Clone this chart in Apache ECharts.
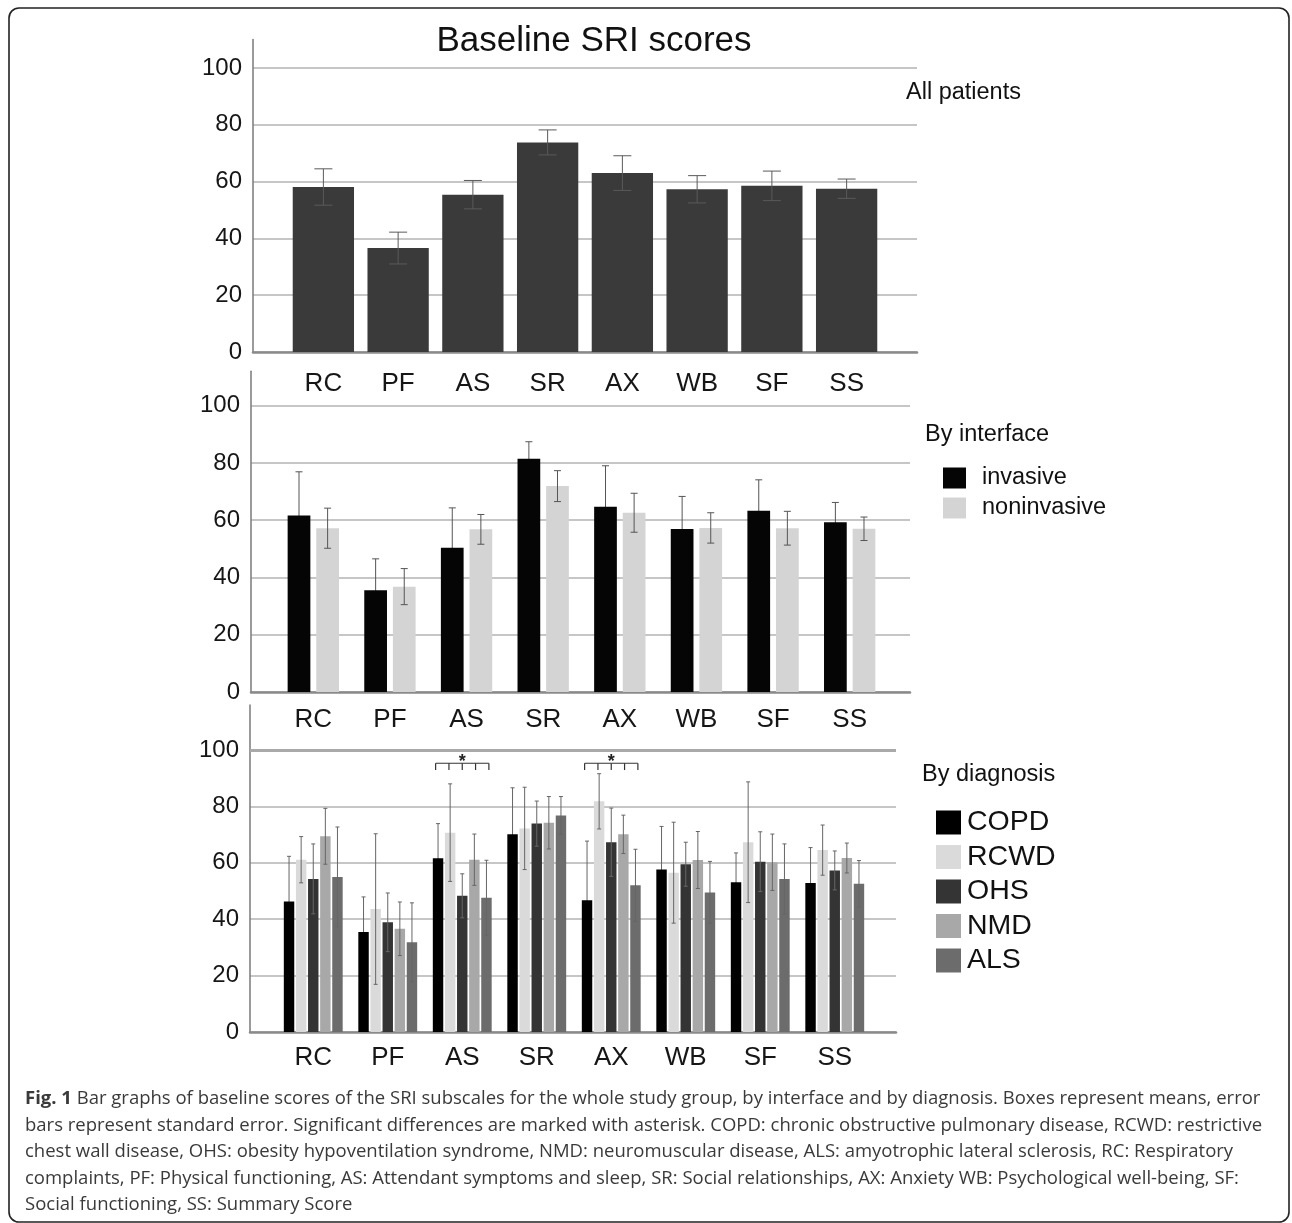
<!DOCTYPE html>
<html>
<head>
<meta charset="utf-8">
<script src="https://cdn.jsdelivr.net/npm/echarts@6/dist/echarts.min.js"></script>
<style>
  html, body { margin: 0; padding: 0; background: #fff; }
  #chart { width: 1292px; height: 1223px; }
</style>
</head>
<body>
<div id="chart"></div>
<script>
// SRI subscales
const categories = ['RC', 'PF', 'AS', 'SR', 'AX', 'WB', 'SF', 'SS'];

// All patients: mean and standard error
const allMean = [58.1, 36.6, 55.4, 73.8, 63.0, 57.3, 58.5, 57.5];
const allErr  = [6.4, 5.6, 5.0, 4.4, 6.1, 4.8, 5.2, 3.4];

// By interface
const invasiveMean    = [61.6, 35.5, 50.4, 81.5, 64.7, 56.9, 63.3, 59.3];
const invasiveErr     = [15.3, 11.0, 13.9, 5.9, 14.3, 11.4, 10.8, 6.9];
const noninvasiveMean = [57.2, 36.8, 56.8, 71.9, 62.6, 57.3, 57.2, 57.0];
const noninvasiveErr  = [7.0, 6.3, 5.2, 5.4, 6.8, 5.3, 5.9, 4.1];

// By diagnosis
const copdMean = [46.3, 35.5, 61.6, 70.1, 46.7, 57.6, 53.1, 52.8];
const copdErr  = [16.0, 12.4, 12.3, 16.5, 21.0, 15.3, 10.4, 12.6];
const rcwdMean = [61.1, 43.6, 70.7, 72.2, 81.8, 56.5, 67.3, 64.5];
const rcwdErr  = [8.2, 26.7, 17.3, 14.6, 9.8, 17.9, 21.4, 8.9];
const ohsMean  = [54.3, 38.9, 48.3, 73.9, 67.3, 59.5, 60.4, 57.3];
const ohsErr   = [12.4, 10.4, 7.8, 8.0, 12.1, 7.8, 10.6, 6.9];
const nmdMean  = [69.4, 36.6, 61.1, 74.2, 70.1, 61.0, 60.2, 61.7];
const nmdErr   = [9.9, 9.5, 9.1, 9.3, 6.8, 10.1, 10.0, 5.3];
const alsMean  = [55.0, 31.8, 47.6, 76.8, 52.0, 49.5, 54.3, 52.6];
const alsErr   = [17.7, 14.0, 13.3, 6.7, 12.8, 11.0, 12.4, 8.2];

// Subscales with a significant difference between diagnoses
const significant = ['AS', 'AX'];
const bracketLevel = 95.3;

// y axis tick labels
const yTickLabels = [0, 20, 40, 60, 80, 100];

const FONT = "'Liberation Sans', Arial, sans-serif";
const CAPTION_FONT = "'Open Sans', 'Noto Sans', sans-serif";

// Same arithmetic as ECharts' own bar layout, so whiskers sit on bar centres
function barLayout(band, n, catGap, gap) {
  const avail = band * (1 - catGap);
  const w = avail / (n + (n - 1) * gap);
  return { w: w, start: -avail / 2 + w / 2, step: w * (1 + gap) };
}

function errorSeries(mean, err, axis, n, k, catGap, gap, cap, color, z) {
  return {
    type: 'custom',
    xAxisIndex: axis, yAxisIndex: axis,
    silent: true, z: z,
    data: mean.map((m, i) => [i, m - err[i], m + err[i]]),
    encode: { x: 0, y: [1, 2] },
    renderItem: function (params, api) {
      const i = api.value(0);
      const lo = api.coord([i, api.value(1)]);
      const hi = api.coord([i, api.value(2)]);
      const L = barLayout(api.size([1, 0])[0], n, catGap, gap);
      const x = lo[0] + L.start + k * L.step;
      const st = { stroke: color, lineWidth: 1 };
      return {
        type: 'group',
        children: [
          { type: 'line', shape: { x1: x, y1: hi[1], x2: x, y2: lo[1] }, style: st },
          { type: 'line', shape: { x1: x - cap, y1: hi[1], x2: x + cap, y2: hi[1] }, style: st },
          { type: 'line', shape: { x1: x - cap, y1: lo[1], x2: x + cap, y2: lo[1] }, style: st }
        ]
      };
    }
  };
}

// Panel frames (axes, gridlines) and the inner band that holds the bars
const panels = [
  { frame: { left: 253, right: 375, top: 39.6, bottom: 871 }, bars: { left: 286, right: 408 }, max: 110, labelMargin: 19 },
  { frame: { left: 251, right: 382, top: 371.3, bottom: 531 }, bars: { left: 275, right: 404 }, max: 112, labelMargin: 15 },
  { frame: { left: 250, right: 396, top: 704.9, bottom: 191 }, bars: { left: 276, right: 420 }, max: 116, labelMargin: 13 }
];

const grid = [], xAxis = [], yAxis = [];
panels.forEach(p => {
  grid.push(Object.assign({ outerBoundsMode: 'none', containLabel: false }, p.frame));
  grid.push({ outerBoundsMode: 'none', containLabel: false, left: p.bars.left, right: p.bars.right, top: p.frame.top, bottom: p.frame.bottom });
  // frame axes
  xAxis.push({
    type: 'category', gridIndex: grid.length - 2, data: categories,
    axisLine: { show: true, lineStyle: { color: '#8a8a8a', width: 2.5 } },
    axisTick: { show: false }, axisLabel: { show: false }, splitLine: { show: false }
  });
  yAxis.push({
    type: 'value', gridIndex: grid.length - 2, min: 0, max: p.max, interval: 20,
    axisLine: { show: true, lineStyle: { color: '#7a7a7a', width: 1.5 } },
    axisTick: { show: false },
    axisLabel: {
      show: true, margin: 11, fontSize: 24, color: '#161616', fontFamily: FONT,
      formatter: v => (yTickLabels.indexOf(v) >= 0 ? String(v) : '')
    },
    splitLine: { show: true, showMaxLine: false, lineStyle: { color: '#b3b3b3', width: 1.5 } }
  });
  // bar axes
  xAxis.push({
    type: 'category', gridIndex: grid.length - 1, data: categories,
    axisLine: { show: false }, axisTick: { show: false }, splitLine: { show: false },
    axisLabel: { show: true, margin: p.labelMargin, fontSize: 26, color: '#161616', fontFamily: FONT, interval: 0 }
  });
  yAxis.push({ type: 'value', gridIndex: grid.length - 1, min: 0, max: p.max, show: false, splitLine: { show: false } });
});

const series = [];

// All patients
series.push({ type: 'bar', name: 'All patients', xAxisIndex: 1, yAxisIndex: 1, data: allMean,
  barCategoryGap: '18%', itemStyle: { color: '#3a3a3a' }, silent: true, z: 2 });
series.push(errorSeries(allMean, allErr, 1, 1, 0, 0.18, 0, 9, '#5a5a5a', 3));

// By interface
const ifGap = 0.33, ifBarGap = 0.26;
[[invasiveMean, invasiveErr, 'invasive', '#050505', 1],
 [noninvasiveMean, noninvasiveErr, 'noninvasive', '#d4d4d4', 3]].forEach((s, k) => {
  series.push({ type: 'bar', name: s[2], xAxisIndex: 3, yAxisIndex: 3, data: s[0],
    barCategoryGap: (ifGap * 100) + '%', barGap: (ifBarGap * 100) + '%',
    itemStyle: { color: s[3] }, silent: true, z: 2 });
  series.push(errorSeries(s[0], s[1], 3, 2, k, ifGap, ifBarGap, 3.5, '#555', s[4]));
});

// By diagnosis
const dxGap = 0.21, dxBarGap = 0.16;
[[copdMean, copdErr, 'COPD', '#000000', 1],
 [rcwdMean, rcwdErr, 'RCWD', '#dadada', 3],
 [ohsMean, ohsErr, 'OHS', '#343434', 3],
 [nmdMean, nmdErr, 'NMD', '#a8a8a8', 3],
 [alsMean, alsErr, 'ALS', '#6c6c6c', 3]].forEach((s, k) => {
  series.push({ type: 'bar', name: s[2], xAxisIndex: 5, yAxisIndex: 5, data: s[0],
    barCategoryGap: (dxGap * 100) + '%', barGap: (dxBarGap * 100) + '%',
    itemStyle: { color: s[3] }, silent: true, z: 2 });
  series.push(errorSeries(s[0], s[1], 5, 5, k, dxGap, dxBarGap, 2, '#666', s[4]));
});

// Heavier 100 line on the diagnosis panel
series.push({ type: 'line', xAxisIndex: 4, yAxisIndex: 4, data: [], silent: true,
  markLine: { silent: true, symbol: 'none', label: { show: false },
    lineStyle: { color: '#a9a9a9', width: 3, type: 'solid' }, data: [{ yAxis: 100 }] } });

// Significance brackets with asterisk
series.push({
  type: 'custom', xAxisIndex: 5, yAxisIndex: 5, silent: true, z: 4,
  data: significant.map(c => [categories.indexOf(c), bracketLevel]),
  encode: { x: 0, y: 1 },
  renderItem: function (params, api) {
    const p = api.coord([api.value(0), api.value(1)]);
    const L = barLayout(api.size([1, 0])[0], 5, dxGap, dxBarGap);
    const tick = api.size([0, 2.4])[1];
    const step = L.step * 1.1;
    const x0 = p[0] - 2 * step;
    const st = { stroke: '#333', lineWidth: 1.2 };
    const children = [{ type: 'line', shape: { x1: x0, y1: p[1], x2: x0 + 4 * step, y2: p[1] }, style: st }];
    for (let k = 0; k < 5; k++) {
      const x = x0 + k * step;
      children.push({ type: 'line', shape: { x1: x, y1: p[1], x2: x, y2: p[1] + tick }, style: st });
    }
    children.push({ type: 'text', x: p[0], y: p[1] - 1,
      style: { text: '*', fontSize: 18, fontWeight: 'bold', fontFamily: FONT, fill: '#222',
        align: 'center', verticalAlign: 'middle', textAlign: 'center', textVerticalAlign: 'middle' } });
    return { type: 'group', children: children };
  }
});

const legendText = (size, pad) => ({ fontSize: size, color: '#111', fontFamily: FONT, padding: [0, 0, 0, pad] });

const captionLines = [
  '{b|Fig. 1} Bar graphs of baseline scores of the SRI subscales for the whole study group, by interface and by diagnosis. Boxes represent means, error',
  'bars represent standard error. Significant differences are marked with asterisk. COPD: chronic obstructive pulmonary disease, RCWD: restrictive',
  'chest wall disease, OHS: obesity hypoventilation syndrome, NMD: neuromuscular disease, ALS: amyotrophic lateral sclerosis, RC: Respiratory',
  'complaints, PF: Physical functioning, AS: Attendant symptoms and sleep, SR: Social relationships, AX: Anxiety WB: Psychological well-being, SF:',
  'Social functioning, SS: Summary Score'
];

const sideLabel = (text, x, y) => ({ type: 'text', x: x, y: y, silent: true,
  style: { text: text, fontSize: 23.5, fontFamily: FONT, fill: '#111', verticalAlign: 'middle', textVerticalAlign: 'middle' } });

const graphic = [
  { type: 'rect', shape: { x: 9, y: 8, width: 1280, height: 1214, r: 10 }, silent: true,
    style: { fill: 'none', stroke: '#222', lineWidth: 1.6 } },
  { type: 'text', x: 594, y: 41, silent: true,
    style: { text: 'Baseline SRI scores', fontSize: 35, fontFamily: FONT, fill: '#111', align: 'center', verticalAlign: 'middle', textAlign: 'center', textVerticalAlign: 'middle' } },
  sideLabel('All patients', 906, 93),
  sideLabel('By interface', 925, 435),
  sideLabel('By diagnosis', 922, 775)
];
captionLines.forEach((t, i) => {
  graphic.push({ type: 'text', x: 25, y: 1099 + i * 26.5, silent: true,
    style: { text: t, fontSize: 18.5, fontFamily: CAPTION_FONT, fill: '#3a3a3a', verticalAlign: 'middle', textVerticalAlign: 'middle',
      rich: { b: { fontSize: 18.5, fontWeight: 'bold', fontFamily: CAPTION_FONT, fill: '#3a3a3a' } } } });
});

const chart = echarts.init(document.getElementById('chart'), null, { renderer: 'canvas' });
chart.setOption({
  animation: false,
  backgroundColor: '#ffffff',
  grid: grid, xAxis: xAxis, yAxis: yAxis, series: series,
  legend: [
    { data: ['invasive', 'noninvasive'], left: 943, top: 466, orient: 'vertical', icon: 'rect',
      itemWidth: 23, itemHeight: 21, itemGap: 6, padding: 0, selectedMode: false,
      textStyle: legendText(23.5, 11) },
    { data: ['COPD', 'RCWD', 'OHS', 'NMD', 'ALS'], left: 936, top: 808, orient: 'vertical', icon: 'rect',
      itemWidth: 25, itemHeight: 24, itemGap: 5.5, padding: 0, selectedMode: false,
      textStyle: legendText(28.5, 1) }
  ],
  graphic: graphic
});
</script>
</body>
</html>
